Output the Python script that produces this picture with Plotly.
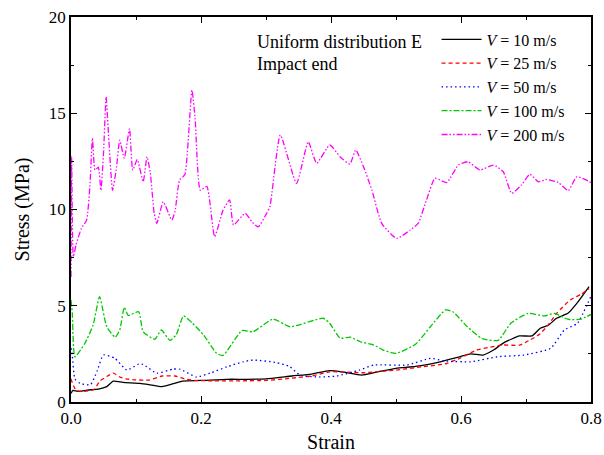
import plotly.graph_objects as go

# ---- data (strain, stress in MPa) ----
x10 = [0, 0.003, 0.01, 0.025, 0.042, 0.055, 0.065, 0.08, 0.106, 0.12, 0.137, 0.15, 0.172, 0.2, 0.24,
       0.27, 0.30, 0.34, 0.37, 0.398, 0.42, 0.447, 0.47, 0.50, 0.53, 0.568, 0.598, 0.615, 0.634, 0.65,
       0.665, 0.69, 0.709, 0.722, 0.735, 0.747, 0.765, 0.78, 0.797]
y10 = [0.45, 0.6, 0.55, 0.62, 0.67, 0.8, 1.08, 1.02, 0.97, 0.9, 0.8, 0.88, 1.09, 1.12, 1.18,
       1.18, 1.2, 1.35, 1.45, 1.63, 1.55, 1.40, 1.55, 1.75, 1.85, 2.09, 2.35, 2.5, 2.44, 2.7,
       3.06, 3.43, 3.43, 3.83, 4.0, 4.35, 4.62, 5.2, 5.99]

x25 = [0, 0.002, 0.008, 0.02, 0.035, 0.045, 0.055, 0.065, 0.075, 0.085, 0.1, 0.12, 0.14, 0.16, 0.175,
       0.19, 0.22, 0.26, 0.3, 0.34, 0.37, 0.398, 0.449, 0.5, 0.541, 0.578, 0.6, 0.624, 0.645, 0.665,
       0.69, 0.706, 0.72, 0.732, 0.747, 0.768, 0.785, 0.797]
y25 = [1.2, 1.0, 0.6, 0.55, 0.65, 1.1, 1.32, 1.5, 1.3, 1.2, 1.15, 1.14, 1.35, 1.35, 1.2,
       1.12, 1.1, 1.1, 1.12, 1.24, 1.35, 1.57, 1.52, 1.66, 1.83, 2.0, 2.3, 2.7, 2.85, 2.96,
       2.95, 3.22, 3.5, 3.91, 4.6, 5.3, 5.6, 5.9]

x50 = [0, 0.002, 0.006, 0.014, 0.03, 0.04, 0.05, 0.067, 0.086, 0.104, 0.111, 0.132, 0.157, 0.168,
       0.193, 0.214, 0.24, 0.265, 0.28, 0.316, 0.337, 0.352, 0.383, 0.409, 0.444, 0.466, 0.517,
       0.553, 0.574, 0.615, 0.656, 0.697, 0.738, 0.759, 0.779, 0.8]
y50 = [2.8, 2.4, 1.2, 0.97, 0.9, 1.6, 2.44, 2.28, 1.66, 1.97, 1.95, 1.5, 1.71, 1.7,
       1.3, 1.5, 1.83, 2.09, 2.18, 2.05, 1.83, 1.4, 1.3, 1.35, 1.66, 1.92, 1.92,
       2.27, 2.14, 2.09, 2.35, 2.44, 2.79, 3.74, 4.09, 5.5]

x100 = [0, 0.002, 0.006, 0.0215, 0.034, 0.044, 0.055, 0.068, 0.075, 0.082, 0.088, 0.104, 0.111,
        0.129, 0.139, 0.152, 0.162, 0.173, 0.186, 0.204, 0.224, 0.234, 0.263, 0.28, 0.311, 0.337,
        0.388, 0.398, 0.414, 0.43, 0.445, 0.466, 0.48, 0.50, 0.53, 0.553, 0.576, 0.587, 0.61, 0.632,
        0.657, 0.677, 0.703, 0.728, 0.744, 0.764, 0.784, 0.8]
y100 = [5.3, 4.6, 2.35, 3.06, 4.0, 5.47, 3.91, 3.37, 3.74, 4.92, 4.5, 4.69, 3.65,
        3.26, 3.74, 3.2, 3.5, 4.47, 4.12, 3.48, 2.53, 2.42, 3.71, 3.65, 4.31, 3.91,
        4.35, 4.09, 3.32, 3.37, 3.13, 2.96, 2.7, 2.53, 3.0, 3.91, 4.78, 4.7, 3.9, 3.3,
        3.2, 4.1, 4.6, 4.47, 4.6, 4.3, 4.3, 4.55]

x200 = [0, 0.001, 0.0036, 0.0077, 0.016, 0.024, 0.029, 0.033, 0.037, 0.042, 0.046, 0.05, 0.054,
        0.057, 0.064, 0.070, 0.075, 0.082, 0.090, 0.095, 0.102, 0.111, 0.117, 0.122, 0.128, 0.132,
        0.142, 0.155, 0.160, 0.167, 0.175, 0.186, 0.191, 0.199, 0.209, 0.221, 0.234, 0.244, 0.250,
        0.268, 0.278, 0.288, 0.301, 0.306, 0.322, 0.347, 0.365, 0.378, 0.398, 0.414, 0.429, 0.438,
        0.45, 0.463, 0.478, 0.501, 0.522, 0.534, 0.547, 0.56, 0.578, 0.596, 0.611, 0.629, 0.65,
        0.665, 0.678, 0.693, 0.706, 0.719, 0.732, 0.75, 0.765, 0.778, 0.793, 0.8]
y200 = [6.5, 12.74, 7.55, 8.16, 9.02, 9.45, 11.18, 13.7, 12.05, 12.2, 11.0, 12.92, 15.86,
        14.3, 11.0, 12.2, 13.6, 12.66, 14.2, 12.05, 12.6, 11.44, 12.74, 11.9, 9.8, 9.28,
        10.4, 9.45, 9.9, 11.53, 11.8, 16.2, 14.7, 11.0, 11.2, 8.59, 9.97, 10.5, 9.2,
        9.8, 9.37, 9.1, 9.8, 10.14, 13.87, 11.36, 13.52, 12.4, 13.35, 12.74, 12.36, 13.1,
        12.22, 11.0, 9.28, 8.5, 8.94, 9.28, 10.5, 11.62, 11.4, 12.31, 12.48, 12.05, 12.31,
        11.96, 10.84, 11.27, 11.83, 11.44, 11.56, 11.4, 10.98, 11.7, 11.53, 11.4]

series = [
    ("<i>V</i> = 10 m/s", x10, y10, "#000000", "solid"),
    ("<i>V</i> = 25 m/s", x25, y25, "#ff0000", "4px,3px"),
    ("<i>V</i> = 50 m/s", x50, y50, "#0000ff", "1.5px,3px"),
    ("<i>V</i> = 100 m/s", x100, y100, "#00c800", "6px,2px,2px,2px"),
    ("<i>V</i> = 200 m/s", x200, y200, "#ff00ff", "6px,2px,1.5px,2px,1.5px,2px"),
]

FONT = "Liberation Serif"

fig = go.Figure()
for name, xs, ys, col, dash in series:
    fig.add_trace(go.Scatter(x=xs, y=ys, name=name, mode="lines",
                             line=dict(color=col, width=1.3, dash=dash, shape="spline", smoothing=0.5)))

axis_common = dict(showline=True, linecolor="black", linewidth=1.5, mirror="ticks",
                   ticks="inside", ticklen=6, tickwidth=1.2, tickcolor="black",
                   showgrid=False, zeroline=False, automargin=False,
                   tickfont=dict(family=FONT, size=17, color="black"))

fig.update_xaxes(range=[0, 0.8], dtick=0.2, tickformat=".1f",
                 minor=dict(dtick=0.1, ticks="inside", ticklen=3, tickcolor="black", showgrid=False),
                 title=dict(text="Strain", font=dict(family=FONT, size=20, color="black"), standoff=8),
                 **axis_common)
fig.update_yaxes(range=[0, 20], dtick=5,
                 minor=dict(dtick=2.5, ticks="inside", ticklen=3, tickcolor="black", showgrid=False),
                 title=dict(text="Stress (MPa)", font=dict(family=FONT, size=20, color="black"), standoff=14),
                 **axis_common)

fig.add_annotation(text="Uniform distribution E", xref="paper", yref="paper", x=0.353, y=0.935,
                   xanchor="left", yanchor="middle", showarrow=False,
                   font=dict(family=FONT, size=18, color="black"))
fig.add_annotation(text="Impact end", xref="paper", yref="paper", x=0.353, y=0.878,
                   xanchor="left", yanchor="middle", showarrow=False,
                   font=dict(family=FONT, size=18, color="black"))

fig.update_layout(
    width=604, height=455,
    margin=dict(l=71, r=13, t=17, b=53, autoexpand=False),
    plot_bgcolor="white", paper_bgcolor="white",
    showlegend=True,
    legend=dict(x=0.703, y=0.986, xanchor="left", yanchor="top", bgcolor="rgba(0,0,0,0)",
                font=dict(family=FONT, size=16, color="black"), itemwidth=40,
                tracegroupgap=0),
)

fig.write_html("out.html")
